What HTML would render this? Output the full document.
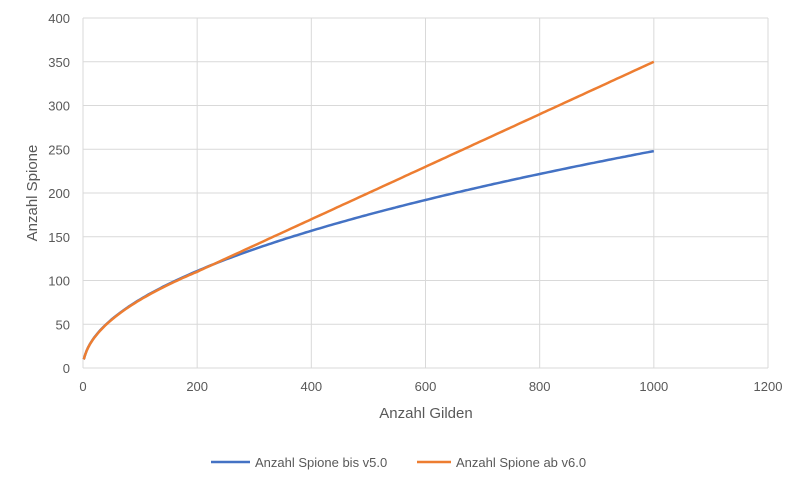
<!DOCTYPE html>
<html><head><meta charset="utf-8"><style>
body{margin:0;background:#fff;}
svg text{font-family:"Liberation Sans",sans-serif;fill:#595959;}
</style></head><body>
<svg id="s" width="800" height="485" xmlns="http://www.w3.org/2000/svg">
<g id="grid" stroke="#d9d9d9" stroke-width="1"></g>
<g id="lbl" font-size="13"></g>
<path id="b" fill="none" stroke="#4472c4" stroke-width="2.5"/>
<path id="o" fill="none" stroke="#ed7d31" stroke-width="2.5"/>
<text x="426" y="418" font-size="15" text-anchor="middle">Anzahl Gilden</text>
<text transform="translate(37,193) rotate(-90)" font-size="15" text-anchor="middle">Anzahl Spione</text>
<line x1="211" y1="462" x2="250" y2="462" stroke="#4472c4" stroke-width="2.5"/>
<text x="255" y="467" font-size="13">Anzahl Spione bis v5.0</text>
<line x1="417" y1="462" x2="451" y2="462" stroke="#ed7d31" stroke-width="2.5"/>
<text x="456" y="467" font-size="13">Anzahl Spione ab v6.0</text>
</svg>
<script>
var X=function(v){return 83+v*(685/1200)},Y=function(v){return 368-v*(350/400)};
var g=document.getElementById('grid'),l=document.getElementById('lbl'),ns='http://www.w3.org/2000/svg',h='';
for(var i=0;i<=6;i++){var x=X(i*200);h+='<line x1="'+x+'" y1="18" x2="'+x+'" y2="368"/>';}
for(var j=0;j<=8;j++){var y=Y(j*50);h+='<line x1="83" y1="'+y+'" x2="768" y2="'+y+'"/>';}
g.innerHTML=h;h='';
for(var i=0;i<=6;i++)h+='<text x="'+X(i*200)+'" y="391" text-anchor="middle">'+i*200+'</text>';
for(var j=0;j<=8;j++)h+='<text x="70" y="'+(Y(j*50)+5)+'" text-anchor="end">'+j*50+'</text>';
l.innerHTML=h;
var pb='',po='';
for(var x=1;x<=1000;x+=(x<20?1:5)){
 var b=Math.max(10,7.84*Math.sqrt(x));
 var o=x<200?Math.max(10,7.78*Math.sqrt(x)):0.3*x+50;
 pb+=(pb?'L':'M')+X(x).toFixed(1)+','+Y(b).toFixed(1);
 po+=(po?'L':'M')+X(x).toFixed(1)+','+Y(o).toFixed(1);
}
document.getElementById('b').setAttribute('d',pb);
document.getElementById('o').setAttribute('d',po);
</script>
</body></html>
